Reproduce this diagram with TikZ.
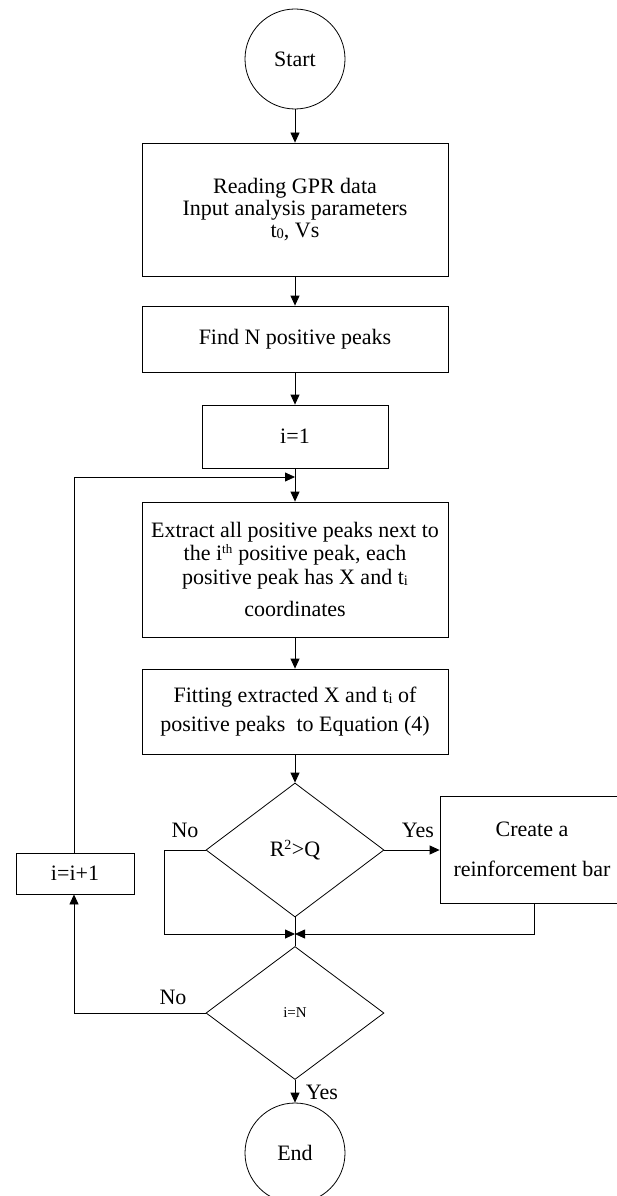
\documentclass[tikz,border=0pt]{standalone}
\usepackage{fontspec}
\setmainfont{Liberation Serif}
\usetikzlibrary{shapes.geometric,arrows.meta}
\newcommand{\lowsub}[1]{\raisebox{-1pt}{\fontsize{14.5}{14.5}\selectfont #1}}
\begin{document}
\begin{tikzpicture}[x=1pt,y=-1pt,line width=0.8pt,
  txt/.style={font=\fontsize{22}{22}\selectfont},
  box/.style={draw,rectangle,align=center,inner sep=0pt,txt},
  term/.style={draw,circle,minimum size=100pt,inner sep=0pt,txt},
  decide/.style={draw,diamond,minimum width=178pt,minimum height=134pt,inner sep=0pt,aspect=1.33},
  arr/.style={-{Triangle[length=10pt,width=9pt]}},
  lbl/.style={txt,inner sep=0pt}]
\useasboundingbox (0,0) rectangle (617,1196);

\node[term] (start) at (295,59) {Start};
\node[box,minimum width=306pt,minimum height=133pt] (read) at (295,209.5)
  {Reading GPR data\\Input analysis parameters\\t\lowsub{0}, Vs};
\node[box,minimum width=306pt,minimum height=66pt] (find) at (295,339) {Find N positive peaks};
\node[box,minimum width=186pt,minimum height=63pt] (init) at (295,436.5) {i=1};
\node[box,minimum width=306pt,minimum height=135pt,font=\fontsize{22}{23.5}\selectfont] (extract) at (295,569.5)
  {Extract all positive peaks next to\\the i\textsuperscript{\fontsize{13}{13}\selectfont th} positive peak, each\\positive peak has X and t\lowsub{i}\\[9pt]coordinates};
\node[box,minimum width=306pt,minimum height=85pt,font=\fontsize{22}{29}\selectfont] (fit) at (295,711.5)
  {Fitting extracted X and t\lowsub{i} of\\positive peaks~~to Equation (4)};
\node[decide,txt] (dec1) at (295,850) {R\textsuperscript{\fontsize{14}{14}\selectfont 2}>Q};
\node[box,minimum width=184pt,minimum height=107pt,font=\fontsize{22}{40}\selectfont] (create) at (532,849.5)
  {Create a\\reinforcement bar};
\coordinate (merge) at (295,934);
\node[decide,minimum height=133pt,font=\fontsize{15}{16}\selectfont] (dec2) at (295,1013) {i=N};
\node[term] (endc) at (295,1153) {End};
\node[box,minimum width=118pt,minimum height=41pt] (inc) at (75,873.5) {i=i+1};

\coordinate (loopin) at (295,477);
\coordinate (loopcorner) at (74,477);
\coordinate (nocorner1) at (164,850);
\coordinate (nocorner2) at (164,934);
\coordinate (yescorner) at (534,934);
\coordinate (nocorner3) at (74,1013);

\draw[arr] (start) -- (read);
\draw[arr] (read) -- (find);
\draw[arr] (find) -- (init);
\draw[arr] (init) -- (extract);
\draw[arr] (extract) -- (fit);
\draw[arr] (fit) -- (dec1);
\draw[arr] (dec1.east) -- (dec1.east -| create.west);
\draw[arr] (dec1.west) -- (nocorner1) -- (nocorner2) -- (merge);
\draw[arr] (create.south -| yescorner) -- (yescorner) -- (merge);
\draw (dec1.south) -- (dec2.north);
\draw[arr] (dec2.west) -- (nocorner3) -- (inc.south -| nocorner3);
\draw[arr] (inc.north -| loopcorner) -- (loopcorner) -- (loopin);
\draw[arr] (dec2.south) -- (endc);

\node[lbl] (no1) at (185,830) {No};
\node[lbl] (yes1) at (418,830) {Yes};
\node[lbl] (no2) at (173,997) {No};
\node[lbl] (yes2) at (322,1092) {Yes};
\end{tikzpicture}
\end{document}
